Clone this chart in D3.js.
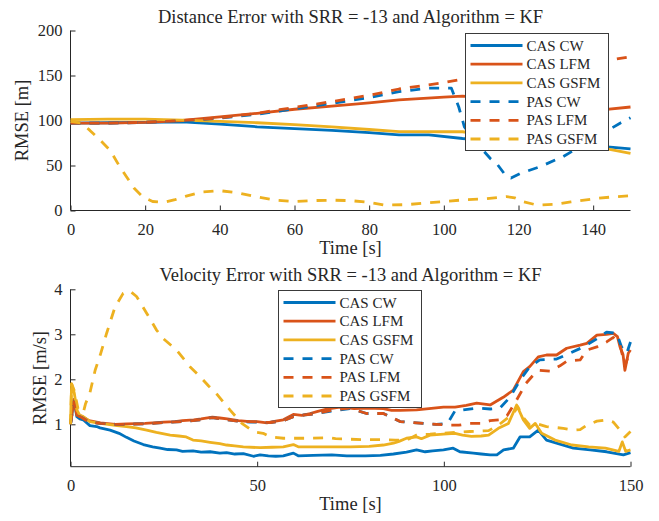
<!DOCTYPE html>
<html>
<head>
<meta charset="utf-8">
<script src="https://cdn.jsdelivr.net/npm/d3@7"></script>
<style>
  body { margin: 0; background: #ffffff; }
  svg text { font-family: "Liberation Serif", "Times New Roman", serif; fill: #262626; }
</style>
</head>
<body>
<svg id="chart" width="659" height="521"></svg>
<script>
// series names and colours (MATLAB default order)
const seriesNames = ["CAS CW", "CAS LFM", "CAS GSFM", "PAS CW", "PAS LFM", "PAS GSFM"];
const seriesColors = ["#0072BD", "#D95319", "#EDB120", "#0072BD", "#D95319", "#EDB120"];
const seriesDashed = [false, false, false, true, true, true];

// ---- distance error (top), [time s, RMSE m]
const distCasCw = [[0,97],[10,97.5],[20,98],[30,98.5],[40,96],[50,93],[60,91],[70,89],[80,86.5],[88,84],[96,84],[105,80],[115,77],[125,74],[135,72],[143,71],[150,68.5]];
const distCasLfm = [[0,97],[10,97],[20,98],[30,100],[40,104],[50,108],[60,112.5],[70,116],[80,119.5],[88,123],[100,126],[105,127],[115,124],[125,119],[135,114],[143,112],[150,115]];
const distCasGsfm = [[0,101],[10,101.5],[20,101.5],[30,100.5],[40,99],[50,97.5],[60,95.5],[70,93],[80,90],[88,87.6],[100,87.5],[105,87.5],[115,82],[125,76],[135,71],[143,69],[150,63.5]];
const distPasCw = [[0,97],[10,97],[20,98],[30,99.5],[40,102.5],[50,107],[60,113],[70,119],[80,125.5],[88,132],[96,136],[102,136],[104,115],[105.5,93],[109,74],[112.4,58],[114.2,52],[116.8,37.6],[118,36],[120.4,41],[125.8,48.7],[132,60],[136.5,71],[142.7,86],[147.2,97],[150,103]];
const distPasLfm = [[0,97],[10,97],[20,98],[30,100],[40,103],[50,108],[56,112],[60,114.5],[70,121],[80,128],[88,135],[100,142],[105,146],[120,154],[135,161],[144.5,167],[150,171]];
const distPasGsfm = [[0,99],[3,97],[5.2,89],[8,78],[10.6,67],[13,50],[15,37.6],[17,25],[19.4,15],[22,10],[25,9],[28,12],[31,16],[35,20.5],[40,22],[45,19.5],[50,15],[55,11.5],[60,10],[65,11],[70,11.5],[75,11],[80,9],[84,6],[90,6.5],[96,8.7],[105,11.7],[111,13],[116.8,15.4],[119,14],[121.3,9.8],[125,6],[130,7],[134,9.5],[141,13.5],[145,15],[150,16.5]];

// ---- velocity error (bottom), [time s, RMSE m/s]
const velCasCw = [[0,1.0],[0.9,1.55],[1.7,1.17],[2.5,1.12],[3.4,1.1],[5.2,0.97],[7,0.95],[7.9,0.92],[10.6,0.87],[13,0.8],[15,0.71],[17,0.63],[19.5,0.55],[22,0.5],[24,0.47],[26,0.44],[28.4,0.43],[30,0.4],[32.8,0.41],[35,0.38],[37.4,0.39],[40,0.36],[41.8,0.37],[44,0.34],[46.3,0.35],[49,0.29],[50.8,0.32],[53,0.3],[55,0.29],[57,0.3],[59.7,0.36],[61,0.3],[65,0.31],[70,0.32],[74,0.3],[79,0.3],[83,0.31],[86.5,0.34],[90,0.38],[92.7,0.43],[95,0.39],[97,0.41],[99.9,0.43],[102.5,0.47],[104.3,0.39],[107.9,0.36],[110,0.34],[112.4,0.32],[114.2,0.32],[116,0.43],[118.6,0.47],[120.4,0.72],[123,0.72],[125.3,0.87],[127.5,0.65],[130.2,0.58],[134.7,0.47],[139.2,0.43],[143.6,0.39],[148.1,0.32],[150,0.37]];
const velCasLfm = [[0,1.0],[0.9,1.55],[1.7,1.2],[3,1.18],[5,1.08],[8,1.03],[12,1.0],[15,1.01],[20,1.02],[25,1.05],[28,1.06],[30,1.08],[33,1.1],[35,1.12],[38,1.16],[40,1.14],[42,1.12],[45,1.08],[48,1.06],[50,1.06],[52.6,1.03],[55,1.07],[57,1.1],[59.7,1.22],[62,1.2],[64.2,1.24],[66,1.28],[68.6,1.34],[72.2,1.38],[76,1.35],[79.3,1.36],[83.8,1.35],[86,1.31],[88.3,1.31],[92.7,1.32],[96,1.35],[99.9,1.38],[103,1.38],[106,1.42],[108.8,1.47],[112.4,1.43],[115.9,1.6],[118.6,1.76],[121.3,2.17],[123,2.28],[125.3,2.5],[127.5,2.54],[130.2,2.54],[132.9,2.69],[136.5,2.76],[138.3,2.8],[141,2.98],[143.6,3.0],[145.4,3.02],[146.5,2.95],[147.2,2.72],[148,2.55],[148.5,2.2],[149.4,2.58],[150,2.65]];
const velCasGsfm = [[0,1.02],[0.3,1.9],[1,1.7],[1.7,1.32],[2.5,1.2],[3.4,1.17],[5.2,1.06],[7.9,1.02],[10,1.0],[12.5,0.97],[15,0.95],[17.5,0.92],[20.4,0.87],[23,0.82],[26.7,0.76],[29,0.74],[31,0.72],[32.8,0.65],[35,0.63],[37.4,0.6],[40,0.57],[41.8,0.54],[44,0.52],[46.3,0.5],[50.8,0.48],[54,0.49],[57,0.5],[59.7,0.55],[61,0.5],[65.7,0.5],[70,0.5],[75,0.5],[80,0.51],[83.8,0.54],[86.5,0.58],[88,0.62],[90,0.69],[92.7,0.72],[94,0.68],[96.3,0.76],[99.9,0.78],[103,0.8],[105,0.76],[107.4,0.73],[110,0.74],[112,0.76],[114.6,0.91],[117.3,1.02],[119.5,1.43],[121.3,1.1],[123,0.91],[124.5,1.02],[126.2,0.8],[129.8,0.65],[134.3,0.54],[138.8,0.5],[143.3,0.47],[146.9,0.4],[147.8,0.61],[148.7,0.4],[150,0.43]];
const velPasCw = [[0,1.0],[0.9,1.5],[1.7,1.2],[3,1.15],[5,1.05],[8,1.02],[12,1.0],[15,1.0],[20,1.01],[25,1.04],[30,1.06],[35,1.1],[38,1.15],[40,1.12],[45,1.07],[48,1.05],[53.5,1.04],[57,1.08],[59.7,1.17],[62,1.2],[65.9,1.24],[70.3,1.3],[74.8,1.35],[77,1.3],[79.3,1.24],[83.8,1.24],[85.6,1.17],[88.3,1.06],[92.7,1.03],[98,1.0],[101,1.02],[103,1.3],[108.8,1.36],[112.4,1.34],[115,1.36],[117.7,1.6],[120.4,1.98],[123,2.28],[125.7,2.43],[130.2,2.45],[133.8,2.58],[137.4,2.72],[141,2.9],[143.6,3.05],[146.3,3.02],[147.6,2.72],[149,2.58],[150,2.83]];
const velPasLfm = [[0,1.0],[0.9,1.5],[1.7,1.2],[3,1.15],[5,1.05],[8,1.02],[12,1.0],[15,1.0],[20,1.01],[25,1.04],[30,1.06],[35,1.1],[38,1.15],[40,1.12],[45,1.07],[48,1.06],[53.5,1.04],[57,1.08],[59.7,1.17],[62,1.2],[65.9,1.24],[70.3,1.32],[74.8,1.36],[77,1.3],[79.3,1.24],[83.8,1.24],[85.6,1.17],[88.3,1.06],[92.7,1.03],[98,1.0],[101.6,0.98],[104,0.98],[107,1.02],[110,1.02],[112.4,1.08],[115,1.1],[117,1.2],[119.5,1.54],[122,1.91],[124,2.1],[125.7,2.2],[128.4,2.18],[131.1,2.3],[132.9,2.4],[136.5,2.43],[138.3,2.65],[141,2.72],[143.6,2.83],[145.4,2.93],[147.2,2.76],[148.5,2.3],[150,2.65]];
const velPasGsfm = [[0,1.0],[0.3,1.9],[1,1.75],[2,1.35],[3.4,1.25],[4,1.45],[5.2,1.7],[6.6,2.2],[8,2.55],[9.7,3.03],[11.9,3.6],[14.1,3.91],[15.9,3.96],[17.7,3.84],[20.4,3.47],[23,3.1],[24.9,2.9],[28.4,2.65],[32,2.28],[34.7,2.06],[37,1.85],[39.2,1.67],[42.7,1.32],[45.9,1.02],[48,0.9],[49.9,0.82],[51.6,0.8],[53.5,0.72],[57,0.69],[60,0.69],[64,0.69],[69.5,0.7],[71,0.68],[78,0.66],[83,0.66],[87,0.65],[90,0.65],[92.7,0.76],[96.3,0.78],[99,0.8],[103,0.82],[107,0.84],[112,0.86],[114.6,0.98],[118.6,1.24],[119.8,1.39],[121.3,1.15],[123,0.98],[124.5,1.02],[127.5,0.95],[132,0.91],[134.7,0.87],[136.5,0.88],[138.3,0.98],[141,1.07],[143.6,1.1],[145.4,1.05],[147.2,0.87],[148.5,0.72],[150,0.84]];

// tick values
const distXTicks = [0, 20, 40, 60, 80, 100, 120, 140];
const distYTicks = [0, 50, 100, 150, 200];
const velXTicks = [0, 50, 100, 150];
const velYTicks = [1, 2, 3, 4];

const svg = d3.select("#chart");
const axisColor = "#262626";
const dash = "10,9";

function drawPanel(cfg) {
    const x = d3.scaleLinear().domain([0, 150]).range([70.5, 630.5]);
    const y = d3.scaleLinear().domain(cfg.yDomain).range([cfg.bottom, cfg.top]);
    const g = svg.append("g");

    // axes (box off, ticks pointing inward)
    const xAxis = d3.axisBottom(x).tickValues(cfg.xTicks).tickFormat(d3.format("d"))
        .tickSizeInner(-5).tickSizeOuter(0).tickPadding(13);
    const yAxis = d3.axisLeft(y).tickValues(cfg.yTicks).tickFormat(d3.format("d"))
        .tickSizeInner(-5).tickSizeOuter(0).tickPadding(8);

    const gx = g.append("g").attr("transform", `translate(0,${cfg.bottom})`).call(xAxis);
    const gy = g.append("g").attr("transform", "translate(70.5,0)").call(yAxis);
    [gx, gy].forEach(a => {
        a.select(".domain").attr("stroke", axisColor).attr("stroke-width", 1);
        a.selectAll(".tick line").attr("stroke", axisColor).attr("stroke-width", 1);
        a.selectAll(".tick text")
            .style("font-family", '"Liberation Serif", serif')
            .style("font-size", "16.5px")
            .attr("fill", axisColor);
    });
    gx.select(".domain").attr("d", "M70.5,0H630.5");
    gy.select(".domain").attr("d", `M0,${cfg.bottom - 0.5}V${cfg.top}`);

    const line = d3.line().x(d => x(d[0])).y(d => y(d[1]));

    cfg.series.forEach((data, i) => {
        g.append("path")
            .datum(data)
            .attr("d", line)
            .attr("fill", "none")
            .attr("stroke", seriesColors[i])
            .attr("stroke-width", 2.8)
            .attr("stroke-linejoin", "round")
            .attr("stroke-dasharray", seriesDashed[i] ? dash : null);
    });

    // title and labels
    g.append("text")
        .attr("x", 350.5).attr("y", cfg.titleY)
        .attr("text-anchor", "middle")
        .style("font-size", "18.5px")
        .text(cfg.title);
    g.append("text")
        .attr("x", 350.5).attr("y", cfg.xLabelY)
        .attr("text-anchor", "middle")
        .style("font-size", "18.5px")
        .text("Time [s]");
    g.append("text")
        .attr("transform", `translate(${cfg.yLabelX},${(cfg.top + cfg.bottom) / 2}) rotate(-90)`)
        .attr("text-anchor", "middle")
        .style("font-size", "18.5px")
        .text(cfg.yLabel);

    // legend
    const lg = g.append("g").attr("transform", `translate(${cfg.legend.x},${cfg.legend.y})`);
    const rowH = 18.7;
    lg.append("rect")
        .attr("x", 0).attr("y", 0)
        .attr("width", 143).attr("height", 117)
        .attr("fill", "#ffffff")
        .attr("stroke", "#3a3a3a")
        .attr("stroke-width", 1);
    seriesNames.forEach((name, i) => {
        const ry = 12 + i * rowH;
        lg.append("line")
            .attr("x1", 5).attr("x2", 57)
            .attr("y1", ry).attr("y2", ry)
            .attr("stroke", seriesColors[i])
            .attr("stroke-width", 2.8)
            .attr("stroke-dasharray", seriesDashed[i] ? dash : null);
        lg.append("text")
            .attr("x", 61).attr("y", ry + 5)
            .style("font-size", "15px")
            .text(name);
    });
}

drawPanel({
    title: "Distance Error with SRR = -13 and Algorithm = KF",
    yLabel: "RMSE [m]",
    yDomain: [0, 200],
    top: 30.5, bottom: 210.5,
    titleY: 23, xLabelY: 254, yLabelX: 28,
    xTicks: distXTicks, yTicks: distYTicks,
    series: [distCasCw, distCasLfm, distCasGsfm, distPasCw, distPasLfm, distPasGsfm],
    legend: { x: 465.5, y: 33.5 }
});

drawPanel({
    title: "Velocity Error with SRR = -13 and Algorithm = KF",
    yLabel: "RMSE [m/s]",
    yDomain: [0.058, 4],
    top: 289.3, bottom: 466.7,
    titleY: 281, xLabelY: 510, yLabelX: 46,
    xTicks: velXTicks, yTicks: velYTicks,
    series: [velCasCw, velCasLfm, velCasGsfm, velPasCw, velPasLfm, velPasGsfm],
    legend: { x: 278.5, y: 290.5 }
});
</script>
</body>
</html>
